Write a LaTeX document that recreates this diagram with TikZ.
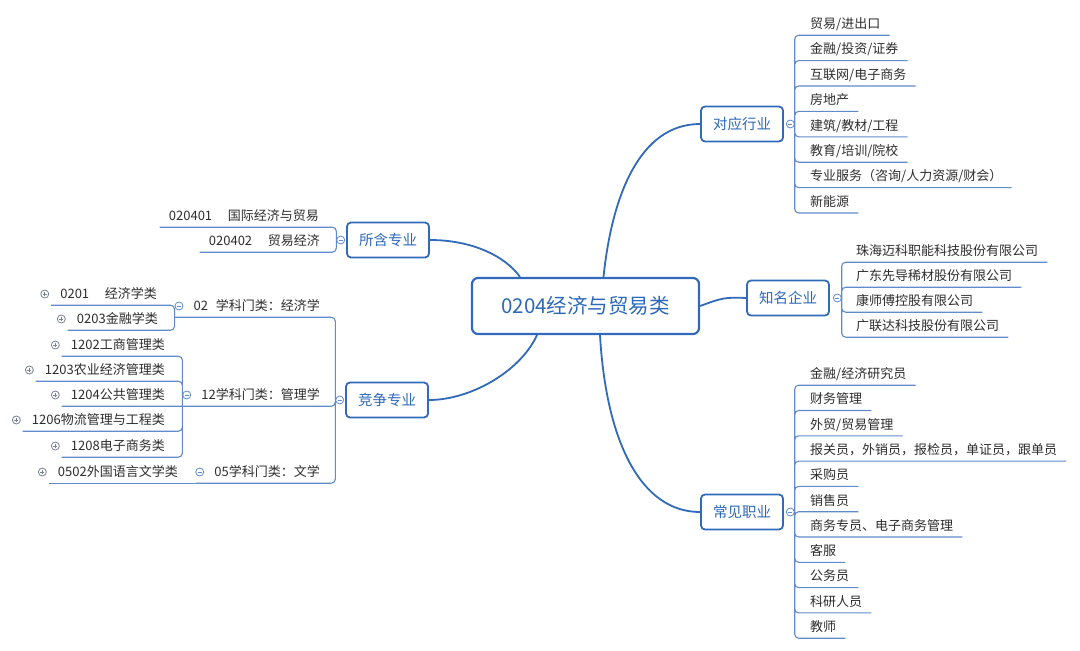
\documentclass[tikz,border=0pt]{standalone}
\usepackage{xcolor}
\usepackage{fontspec}
\setmainfont{Noto Sans CJK SC}
\usepackage{tikz}
\usetikzlibrary{positioning,calc}
\definecolor{boxline}{RGB}{48,106,184}
\definecolor{boxtext}{RGB}{45,105,185}
\definecolor{subline}{RGB}{96,140,205}
\definecolor{leaftext}{RGB}{45,45,45}
\definecolor{knobgray}{RGB}{120,130,150}

\begin{document}
\begin{tikzpicture}[
    x=1pt, y=-1pt,
    root/.style={rectangle, draw=boxline, line width=2.2pt, rounded corners=6pt, fill=white, text=boxtext, minimum width=227pt, minimum height=56pt, font=\fontsize{20.5}{24}\selectfont},
    topic/.style={rectangle, draw=boxline, line width=1.8pt, rounded corners=4pt, fill=white, text=boxtext, minimum width=82pt, minimum height=35pt, font=\fontsize{14.5}{17}\selectfont},
    leaf/.style={text=leaftext, inner xsep=9pt, inner ysep=4pt, text height=11.5pt, text depth=2.5pt, font=\fontsize{13}{15}\selectfont},
    branch/.style={draw=boxline, line width=1.8pt},
    link/.style={draw=subline, line width=1.1pt, rounded corners=4pt},
    knob/.style={circle, draw=subline, line width=0.8pt, fill=white, minimum size=8pt, inner sep=0pt},
    fold/.style={knob, path picture={\draw[subline, line width=0.7pt] ([xshift=-2pt]path picture bounding box.center) -- ([xshift=2pt]path picture bounding box.center);}},
    unfold/.style={knob, draw=knobgray, path picture={\draw[knobgray, line width=0.7pt] ([xshift=-2pt]path picture bounding box.center) -- ([xshift=2pt]path picture bounding box.center) ([yshift=-2pt]path picture bounding box.center) -- ([yshift=2pt]path picture bounding box.center);}}
]
    \fill[white] (0,0) rectangle (1080,651);
    \useasboundingbox (0,0) rectangle (1080,651);

    % centre and main topics
    \node[root] (root) at (585.5,306) {0204经济与贸易类};
    \node[topic] (hy) at (742,124) {对应行业};
    \node[topic] (qy) at (788,298) {知名企业};
    \node[topic] (zy) at (742,512) {常见职业};
    \node[topic] (sh) at (388,240) {所含专业};
    \node[topic] (jz) at (387,400) {竞争专业};

    \draw[branch] ([xshift=18pt]root.north) .. controls (612,195) and (640,124) .. (hy.west);
    \draw[branch] (root.east) .. controls (722,298) and (725,297) .. (qy.west);
    \draw[branch] ([xshift=14.5pt]root.south) .. controls (606,440) and (640,512) .. (zy.west);
    \draw[branch] ([xshift=-65.5pt]root.north) .. controls (505,256) and (472,240) .. (sh.east);
    \draw[branch] ([xshift=-48.5pt]root.south) .. controls (520,372) and (470,400) .. (jz.east);

    \node[fold, right=2pt of hy] (hyk) {};
    \node[fold, right=3pt of qy] (qyk) {};
    \node[fold, right=2pt of zy] (zyk) {};
    \node[fold, left=1pt of sh] (shk) {};
    \node[fold, left=1pt of jz] (jzk) {};

    % 对应行业
    \node[leaf, anchor=west] (hy1) at (801,24) {贸易/进出口};
    \node[leaf, anchor=west] (hy2) at (801,49.4) {金融/投资/证券};
    \node[leaf, anchor=west] (hy3) at (801,74.8) {互联网/电子商务};
    \node[leaf, anchor=west] (hy4) at (801,100.2) {房地产};
    \node[leaf, anchor=west] (hy5) at (801,125.6) {建筑/教材/工程};
    \node[leaf, anchor=west] (hy6) at (801,151) {教育/培训/院校};
    \node[leaf, anchor=west] (hy7) at (801,176.4) {专业服务（咨询/人力资源/财会）};
    \node[leaf, anchor=west] (hy8) at (801,201.8) {新能源};
    \draw[link] (hyk.east) |- (hy1.south east) (hyk.east) |- (hy2.south east)
        (hyk.east) |- (hy3.south east) (hyk.east) |- (hy4.south east)
        (hyk.east) |- (hy5.south east) (hyk.east) |- (hy6.south east)
        (hyk.east) |- (hy7.south east) (hyk.east) |- (hy8.south east);

    % 知名企业
    \node[leaf, anchor=west] (qy1) at (847,251) {珠海迈科职能科技股份有限公司};
    \node[leaf, anchor=west] (qy2) at (847,276) {广东先导稀材股份有限公司};
    \node[leaf, anchor=west] (qy3) at (847,301) {康师傅控股有限公司};
    \node[leaf, anchor=west] (qy4) at (847,326) {广联达科技股份有限公司};
    \draw[link] (qyk.east) |- (qy1.south east) (qyk.east) |- (qy2.south east)
        (qyk.east) |- (qy3.south east) (qyk.east) |- (qy4.south east);

    % 常见职业
    \node[leaf, anchor=west] (zy1) at (801,374) {金融/经济研究员};
    \node[leaf, anchor=west] (zy2) at (801,399.3) {财务管理};
    \node[leaf, anchor=west] (zy3) at (801,424.6) {外贸/贸易管理};
    \node[leaf, anchor=west] (zy4) at (801,449.9) {报关员，外销员，报检员，单证员，跟单员};
    \node[leaf, anchor=west] (zy5) at (801,475.2) {采购员};
    \node[leaf, anchor=west] (zy6) at (801,500.5) {销售员};
    \node[leaf, anchor=west] (zy7) at (801,525.8) {商务专员、电子商务管理};
    \node[leaf, anchor=west] (zy8) at (801,551.1) {客服};
    \node[leaf, anchor=west] (zy9) at (801,576.4) {公务员};
    \node[leaf, anchor=west] (zy10) at (801,601.7) {科研人员};
    \node[leaf, anchor=west] (zy11) at (801,627) {教师};
    \draw[link] (zyk.east) |- (zy1.south east) (zyk.east) |- (zy2.south east)
        (zyk.east) |- (zy3.south east) (zyk.east) |- (zy4.south east)
        (zyk.east) |- (zy5.south east) (zyk.east) |- (zy6.south east)
        (zyk.east) |- (zy7.south east) (zyk.east) |- (zy8.south east)
        (zyk.east) |- (zy9.south east) (zyk.east) |- (zy10.south east)
        (zyk.east) |- (zy11.south east);

    % 所含专业
    \node[leaf, anchor=east] (sh1) at (328,216) {020401\hspace{1.2em}国际经济与贸易};
    \node[leaf, anchor=east] (sh2) at (329,241) {020402\hspace{1.2em}贸易经济};
    \draw[link] (shk.west) |- (sh1.south west) (shk.west) |- (sh2.south west);

    % 竞争专业
    \node[leaf, anchor=east] (g02) at (329,306) {02\hspace{0.6em}学科门类：经济学};
    \node[leaf, anchor=east] (g12) at (329,395) {12学科门类：管理学};
    \node[leaf, anchor=east] (g05) at (329,472) {05学科门类：文学};
    \node[fold, left=1pt of g02] (g02k) {};
    \node[fold, left=1pt of g12] (g12k) {};
    \node[fold, left=1pt of g05] (g05k) {};
    \coordinate (g02s) at (g02k.west |- g02.south);
    \coordinate (g12s) at (g12k.west |- g12.south);
    \coordinate (g05s) at (g05k.west |- g05.south);
    \draw[link] (jzk.west) |- (g02s) (jzk.west) |- (g12s) (jzk.west) |- (g05s);

    \node[leaf, anchor=east] (c0201) at (166,294) {0201\hspace{1.2em}经济学类};
    \node[leaf, anchor=east] (c0203) at (167,319) {0203金融学类};
    \node[unfold, left=2pt of c0201] (c0201k) {};
    \node[unfold, left=2pt of c0203] (c0203k) {};
    \draw[link] (g02s) |- (c0201.south west) (g02s) |- (c0203.south west);

    \node[leaf, anchor=east] (c1202) at (174,345) {1202工商管理类};
    \node[leaf, anchor=east] (c1203) at (174,370) {1203农业经济管理类};
    \node[leaf, anchor=east] (c1204) at (174,395) {1204公共管理类};
    \node[leaf, anchor=east] (c1206) at (174,420) {1206物流管理与工程类};
    \node[leaf, anchor=east] (c1208) at (174,446) {1208电子商务类};
    \node[unfold, left=2pt of c1202] (c1202k) {};
    \node[unfold, left=2pt of c1203] (c1203k) {};
    \node[unfold, left=2pt of c1204] (c1204k) {};
    \node[unfold, left=2pt of c1206] (c1206k) {};
    \node[unfold, left=2pt of c1208] (c1208k) {};
    \draw[link] (g12s) |- (c1202.south west) (g12s) |- (c1203.south west)
        (g12s) -- (c1204.south west) (g12s) |- (c1206.south west)
        (g12s) |- (c1208.south west);

    \node[leaf, anchor=east] (c0502) at (187,472) {0502外国语言文学类};
    \node[unfold, left=2pt of c0502] (c0502k) {};
    \draw[link] (g05s) -- (c0502.south west);
\end{tikzpicture}
\end{document}
